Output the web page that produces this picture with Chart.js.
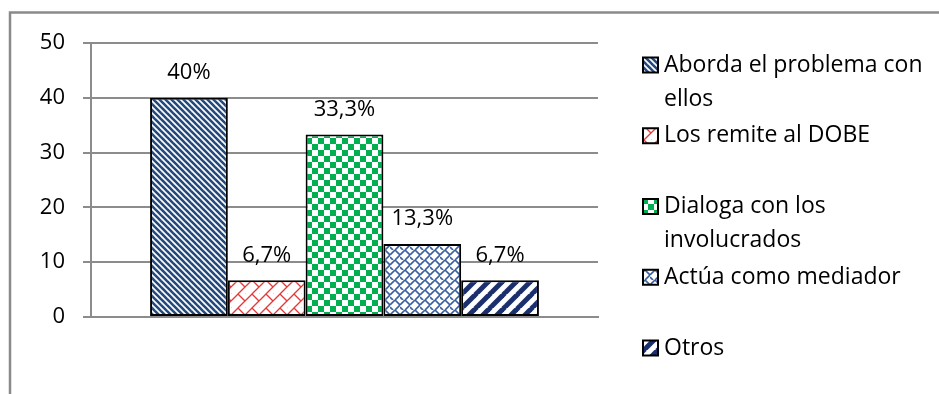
<!DOCTYPE html>
<html>
<head>
<meta charset="utf-8">
<script src="https://cdn.jsdelivr.net/npm/chart.js@4"></script>
<style>
  html, body { margin: 0; padding: 0; background: #fff; }
  #wrap { width: 939px; height: 394px; position: relative; }
</style>
</head>
<body>
<div id="wrap"><canvas id="chart"></canvas></div>
<script>
  const categories = [''];
  const seriesLabels = ['Aborda el problema con ellos', 'Los remite al DOBE', 'Dialoga con los involucrados', 'Actúa como mediador', 'Otros'];
  const seriesValues = [40, 6.7, 33.3, 13.3, 6.7];
  const yTicks = [0, 10, 20, 30, 40, 50];

  const FONT = '"Open Sans", Lato, sans-serif';
  const GRID = '#8c8c8c';

  function tile(size, draw) {
    const c = document.createElement('canvas');
    c.width = size; c.height = size;
    const g = c.getContext('2d');
    g.fillStyle = '#fff';
    g.fillRect(0, 0, size, size);
    draw(g, size);
    return document.getElementById('chart').getContext('2d').createPattern(c, 'repeat');
  }

  // thin blue "\" stripes
  const stripesBlue = tile(6, (g, s) => {
    g.strokeStyle = '#24497c';
    g.lineWidth = 2.6;
    for (const o of [-s, 0, s]) {
      g.beginPath(); g.moveTo(o - 1, -1); g.lineTo(o + s + 1, s + 1); g.stroke();
    }
  });

  // red diagonal brick
  const brickRed = tile(14, (g, s) => {
    g.strokeStyle = '#e23a3a';
    g.lineWidth = 1.3;
    for (const o of [-s, 0, s]) {
      g.beginPath(); g.moveTo(o - 1, s + 1); g.lineTo(o + s + 1, -1); g.stroke();
    }
    g.beginPath(); g.moveTo(0, 0); g.lineTo(s / 2, s / 2); g.stroke();
    g.beginPath(); g.moveTo(s / 2, s); g.lineTo(s, s * 1.5); g.stroke();
  });

  // green checkerboard
  const checkGreen = tile(12, (g, s) => {
    g.fillStyle = '#00b050';
    g.fillRect(0, 0, s / 2, s / 2);
    g.fillRect(s / 2, s / 2, s / 2, s / 2);
  });

  // blue weave
  const weaveBlue = tile(10, (g, s) => {
    g.strokeStyle = '#3b5f9f';
    g.lineWidth = 1.7;
    g.beginPath(); g.moveTo(0, s / 2); g.lineTo(s / 2, 0); g.stroke();
    g.beginPath(); g.moveTo(s / 2, s); g.lineTo(s, s / 2); g.stroke();
    g.beginPath(); g.moveTo(s / 2, 0); g.lineTo(s, s / 2); g.stroke();
    g.beginPath(); g.moveTo(0, s / 2 + 2); g.lineTo(s / 2 - 2, s); g.stroke();
  });

  // wide navy "/" stripes
  const stripesNavy = tile(14, (g, s) => {
    g.strokeStyle = '#1b2f6d';
    g.lineWidth = 5;
    for (const o of [-s, 0, s]) {
      g.beginPath(); g.moveTo(o - 1, s + 1); g.lineTo(o + s + 1, -1); g.stroke();
    }
  });

  const fills = [stripesBlue, brickRed, checkGreen, weaveBlue, stripesNavy];

  function fmt(v) {
    return String(v).replace('.', ',') + '%';
  }

  const frame = {
    id: 'frame',
    beforeDraw(chart) {
      const ctx = chart.ctx;
      ctx.save();
      ctx.strokeStyle = '#8a8a8a';
      ctx.lineWidth = 2.5;
      ctx.strokeRect(10, 12.5, 960, 420);
      ctx.restore();
    }
  };

  const valueLabels = {
    id: 'valueLabels',
    afterDatasetsDraw(chart) {
      const ctx = chart.ctx;
      ctx.save();
      ctx.font = '22px ' + FONT;
      ctx.fillStyle = '#000';
      ctx.textAlign = 'center';
      ctx.textBaseline = 'middle';
      chart.data.datasets.forEach((ds, i) => {
        const bar = chart.getDatasetMeta(i).data[0];
        ctx.fillText(fmt(ds.data[0]), bar.x, bar.y - 25);
      });
      ctx.restore();
    }
  };

  const sideLegend = {
    id: 'sideLegend',
    afterDraw(chart) {
      const ctx = chart.ctx;
      ctx.save();
      ctx.font = '23px ' + FONT;
      ctx.textBaseline = 'middle';
      ctx.fillStyle = '#000';
      const maxW = 268;
      chart.data.datasets.forEach((ds, i) => {
        const y0 = 65 + i * 70.75;
        // wrap label
        const words = ds.label.split(' ');
        const lines = [];
        let cur = '';
        words.forEach(w => {
          const t = cur ? cur + ' ' + w : w;
          if (ctx.measureText(t).width > maxW && cur) { lines.push(cur); cur = w; }
          else cur = t;
        });
        lines.push(cur);
        ctx.fillStyle = ds.backgroundColor;
        ctx.fillRect(643, y0 - 7.5, 15, 15);
        ctx.strokeStyle = '#000';
        ctx.lineWidth = 2;
        ctx.strokeRect(643, y0 - 7.5, 15, 15);
        ctx.fillStyle = '#000';
        lines.forEach((l, k) => ctx.fillText(l, 664, y0 + k * 34));
      });
      ctx.restore();
    }
  };

  new Chart(document.getElementById('chart'), {
    type: 'bar',
    data: {
      labels: categories,
      datasets: seriesLabels.map((label, i) => ({
        label: label,
        data: [seriesValues[i]],
        backgroundColor: fills[i],
        borderColor: '#000',
        borderWidth: 2,
        borderSkipped: false,
        categoryPercentage: 0.767,
        barPercentage: 1.0
      }))
    },
    options: {
      responsive: true,
      maintainAspectRatio: false,
      animation: false,
      layout: { padding: { left: 0, top: 43, right: 341, bottom: 77 } },
      plugins: {
        legend: { display: false },
        tooltip: { enabled: false }
      },
      scales: {
        x: {
          ticks: { display: false },
          grid: { display: false },
          border: { display: true, color: GRID, width: 2 },
          afterFit: s => { s.height = 0; }
        },
        y: {
          min: yTicks[0],
          max: yTicks[yTicks.length - 1],
          afterBuildTicks: s => { s.ticks = yTicks.map(v => ({ value: v })); },
          ticks: {
            padding: 18,
            color: '#000',
            font: { family: FONT, size: 22 }
          },
          grid: { color: GRID, lineWidth: 2, tickLength: 8 },
          border: { display: true, color: GRID, width: 2 },
          afterFit: s => { s.width = 91; }
        }
      }
    },
    plugins: [frame, valueLabels, sideLegend]
  });
</script>
</body>
</html>
